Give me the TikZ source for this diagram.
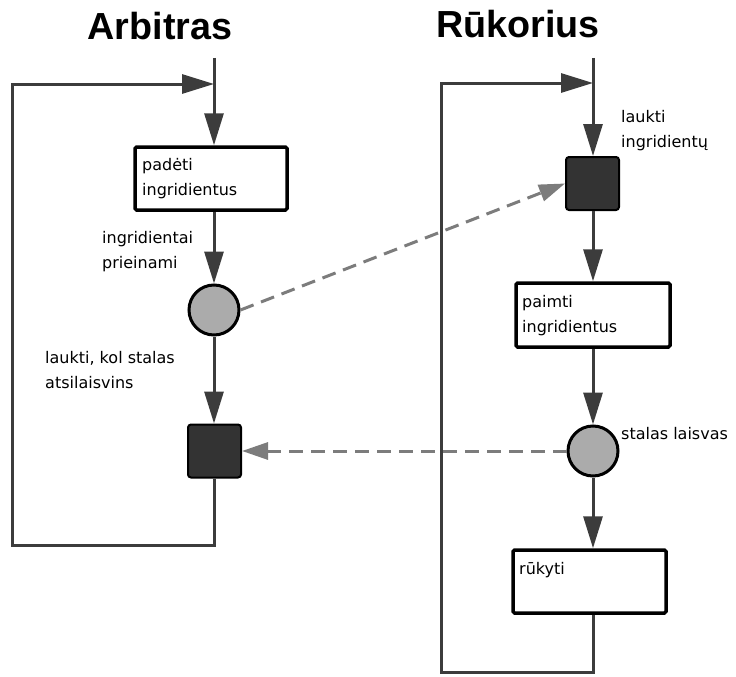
\documentclass[tikz,border=0pt]{standalone}
\usepackage{fontspec}
\usetikzlibrary{arrows.meta}
\newfontfamily\titlefont{Liberation Sans}
\newfontfamily\lblfont{DejaVu Sans}
\definecolor{flow}{HTML}{3C3C3C}
\definecolor{signal}{HTML}{7C7C7C}
\definecolor{token}{HTML}{ABABAB}
\definecolor{waitfill}{HTML}{333333}
\begin{document}
\begin{tikzpicture}[x=1pt,y=-1pt,
  flowline/.style={draw=flow,line width=3pt},
  flowarrow/.style={flowline,-{Triangle[length=32pt,width=19pt]},flow},
  sigarrow/.style={draw=signal,line width=3pt,dash pattern=on 14pt off 8pt,
    -{Triangle[length=26pt,width=17pt]},signal},
  actbox/.style={draw=black,line width=3.5pt,fill=white,rounded corners=1.5pt,
    minimum width=152pt,minimum height=63pt,inner sep=0pt},
  tokencirc/.style={circle,draw=black,line width=3pt,fill=token,
    minimum size=50pt,inner sep=0pt},
  waitbox/.style={draw=black,line width=2pt,fill=waitfill,rounded corners=3pt,
    minimum width=53pt,minimum height=53pt,inner sep=0pt},
  heading/.style={font=\titlefont\bfseries\fontsize{37.7}{40}\selectfont,anchor=base},
  lbl/.style={font=\lblfont\fontsize{16}{25}\selectfont,align=left,inner sep=0pt}
]
\fill[white] (0,0) rectangle (736,677);
\useasboundingbox (0,0) rectangle (736,677);

% headings
\node[heading] (hA) at (160,40) {Arbitras};
\node[heading] (hR) at (518,38) {Rūkorius};

% ---- Arbitras column ----
\coordinate (aTop) at (214,58);
\coordinate (aJ) at (214,84);
\node[actbox] (put) at (211,178.5) {};
\node[lbl,anchor=north west] (putT) at (142,158) {padėti\\ingridientus};
\node[tokencirc] (c1) at (214,310) {};
\node[waitbox] (s1) at (214.5,451) {};
\coordinate (aB) at (214,545);
\coordinate (aBL) at (12,545);
\coordinate (aTL) at (12,84);

\node[lbl,anchor=west] (l1) at (102,252) {ingridientai\\prieinami};
\node[lbl,anchor=west] (l2) at (45,370) {laukti, kol stalas\\atsilaisvins};

\draw[flowarrow] (aTop) -- (put.north -| aTop);
\draw[flowarrow] (put.south -| aTop) -- (c1.north);
\draw[flowarrow] (c1.south) -- (s1.north -| c1);
\draw[flowarrow] (s1.south -| aB) -- (aB) -- (aBL) -- (aTL) -- (aJ);

% ---- Rūkorius column ----
\coordinate (rTop) at (593,58);
\coordinate (rJ) at (593,83);
\node[waitbox] (s2) at (592.5,183.5) {};
\node[actbox,minimum width=154pt,minimum height=64pt] (take) at (593,315) {};
\node[lbl,anchor=north west] (takeT) at (522,295) {paimti\\ingridientus};
\node[tokencirc] (c2) at (593,451) {};
\node[actbox,minimum width=153pt] (smoke) at (589.5,581.5) {};
\node[lbl,anchor=west] (smokeT) at (519,570) {rūkyti};
\coordinate (rB) at (593,672);
\coordinate (rBL) at (441,672);
\coordinate (rTL) at (441,83);

\node[lbl,anchor=west] (l3) at (621,131) {laukti\\ingridientų};
\node[lbl,anchor=west] (l4) at (621,434) {stalas laisvas};

\draw[flowarrow] (rTop) -- (s2.north -| rTop);
\draw[flowarrow] (s2.south -| rTop) -- (take.north -| rTop);
\draw[flowarrow] (take.south -| rTop) -- (c2.north);
\draw[flowarrow] (c2.south) -- (smoke.north -| c2);
\draw[flowarrow] (smoke.south -| rB) -- (rB) -- (rBL) -- (rTL) -- (rJ);

% ---- signals between the columns ----
\draw[sigarrow] (c1.east) -- (s2.west);
\draw[sigarrow] (c2.west) -- (s1.east);
\end{tikzpicture}
\end{document}
